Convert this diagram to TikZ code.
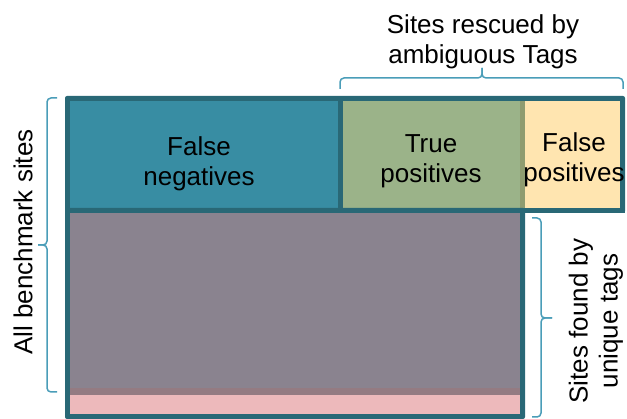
\documentclass[tikz,border=0pt]{standalone}
\usepackage{fontspec}
\setmainfont{Liberation Sans}
\definecolor{frameteal}{HTML}{296876}
\definecolor{fnblue}{HTML}{388DA3}
\definecolor{tpgreen}{HTML}{9BB389}
\definecolor{fpyellow}{HTML}{FFE5B0}
\definecolor{olivestrip}{HTML}{8F9C70}
\definecolor{restgray}{HTML}{8A838F}
\definecolor{mixstrip}{HTML}{947B82}
\definecolor{lowpink}{HTML}{EDB9BB}
\definecolor{bracecol}{HTML}{4A9DB8}
\begin{document}
\begin{tikzpicture}[x=1pt,y=-1pt,
  lbl/.style={font=\fontsize{26}{30}\selectfont, align=center, inner sep=0pt, text=black},
  bracepath/.style={draw=bracecol, line width=1.5pt, rounded corners=4pt}]
\useasboundingbox (0,0) rectangle (627,419);

% upper band: false negatives | true positives | false positives
\fill[frameteal, rounded corners=2pt] (65,96) rectangle (625,213);
\fill[fnblue] (70,101) rectangle (338,208);
\fill[tpgreen] (343,101) rectangle (520,208);
\fill[olivestrip] (520,101) rectangle (525,208);
\fill[fpyellow] (525,101) rectangle (620,208);

% lower band: sites found by unique tags
\fill[frameteal, rounded corners=2pt] (65,208) rectangle (525,419);
\fill[frameteal] (65,208) rectangle (625,213);
\fill[restgray] (70,213) rectangle (520,388);
\fill[mixstrip] (70,388) rectangle (520,395);
\fill[lowpink] (70,395) rectangle (520,414);

% cell labels
\node[lbl] (fn) at (199,164) {False\\negatives};
\node[lbl] (tp) at (431,161) {True\\positives};
\node[lbl] (fp) at (574,160) {False\\positives};

% top brace
\coordinate (tbL) at (340,89);
\coordinate (tbM) at (482,78);
\coordinate (tbT) at (482,68);
\coordinate (tbR) at (623,89);
\draw[bracepath] (tbL) |- (tbM) -- (tbT);
\draw[bracepath] (tbT) -- (tbM) -| (tbR);
\node[lbl] (resc) at (483,42) {Sites rescued by\\ambiguous Tags};

% left brace
\coordinate (lbT) at (57,98);
\coordinate (lbM) at (47,245);
\coordinate (lbP) at (38,245);
\coordinate (lbB) at (57,392);
\draw[bracepath] (lbT) -| (lbM) -- (lbP);
\draw[bracepath] (lbP) -- (lbM) |- (lbB);
\node[lbl, rotate=90] (all) at (23,242) {All benchmark sites};

% right brace
\coordinate (rbT) at (532,218);
\coordinate (rbM) at (541,318);
\coordinate (rbP) at (552,318);
\coordinate (rbB) at (532,417);
\draw[bracepath] (rbT) -| (rbM) -- (rbP);
\draw[bracepath] (rbP) -- (rbM) |- (rbB);
\node[lbl, rotate=90] (uniq) at (596,321) {Sites found by\\unique tags};
\end{tikzpicture}
\end{document}
